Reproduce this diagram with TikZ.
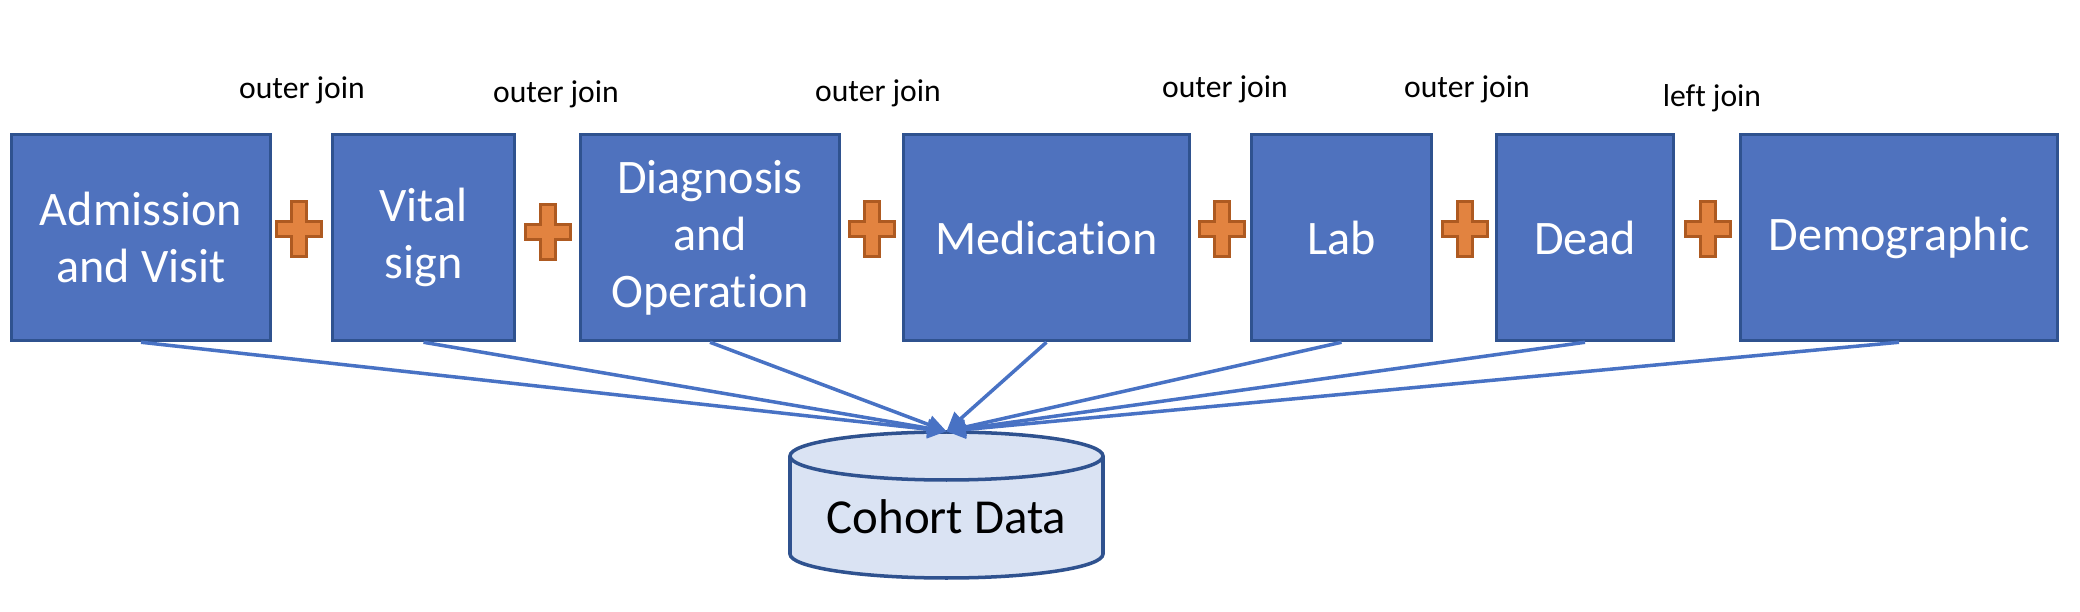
\documentclass[tikz,border=0pt]{standalone}
\usepackage{fontspec}
\setmainfont[Ligatures={NoCommon}]{Carlito}
\usepackage{tikz}
\usetikzlibrary{positioning, arrows.meta}
\definecolor{tblfill}{RGB}{79,114,190}
\definecolor{tblline}{RGB}{47,82,143}
\definecolor{plusfill}{RGB}{226,131,64}
\definecolor{plusline}{RGB}{174,90,33}
\definecolor{dbfill}{RGB}{218,227,243}
\definecolor{linkblue}{RGB}{72,114,196}

\tikzset{
  tblbox/.style={rectangle, draw=tblline, fill=tblfill, line width=1pt,
    minimum height=2.06cm, align=center, text=white,
    font=\fontsize{13.7}{16.2}\selectfont},
  joinlabel/.style={anchor=base, font=\fontsize{9}{11}\selectfont},
  feed/.style={-{Triangle[length=0.19cm, width=0.18cm]}, linkblue, line width=1pt},
  dbline/.style={draw=tblline, line width=1pt},
  joinplus/.pic={
    \draw[plusline, fill=plusfill, line width=0.9pt]
      (-0.074,0.272) -- (0.074,0.272) -- (0.074,0.074) -- (0.228,0.074)
      -- (0.228,-0.074) -- (0.074,-0.074) -- (0.074,-0.272) -- (-0.074,-0.272)
      -- (-0.074,-0.074) -- (-0.228,-0.074) -- (-0.228,0.074) -- (-0.074,0.074) -- cycle;
  }
}

\begin{document}
\begin{tikzpicture}
  \useasboundingbox (0,0) rectangle (20.8,6.12);
  \coordinate (adm) at (1.41,3.745);
  \coordinate (vit) at (4.235,3.745);
  \coordinate (diag) at (7.10,3.745);
  \coordinate (med) at (10.465,3.745);
  \coordinate (lab) at (13.415,3.745);
  \coordinate (dead) at (15.85,3.745);
  \coordinate (demo) at (18.99,3.745);
  \coordinate (db) at (9.465,1.07);

  \node[tblbox, minimum width=2.59cm] (admission) at (adm) {Admission\\and Visit};
  \node[tblbox, minimum width=1.82cm] (vital) at (vit) {Vital\\sign};
  \node[tblbox, minimum width=2.59cm] (diagnosis) at (diag) {Diagnosis\\and\\Operation};
  \node[tblbox, minimum width=2.86cm] (medication) at (med) {Medication};
  \node[tblbox, minimum width=1.80cm] (labs) at (lab) {Lab};
  \node[tblbox, minimum width=1.77cm] (death) at (dead) {Dead};
  \node[tblbox, minimum width=3.17cm] (demographic) at (demo) {Demographic};

  \pic at (2.99,3.83) {joinplus};
  \pic at (5.48,3.80) {joinplus};
  \pic at (8.72,3.83) {joinplus};
  \pic at (12.22,3.83) {joinplus};
  \pic at (14.65,3.83) {joinplus};
  \pic at (17.08,3.83) {joinplus};

  \node[joinlabel] (j1) at (3.02,5.13) {outer join};
  \node[joinlabel] (j2) at (5.56,5.09) {outer join};
  \node[joinlabel] (j3) at (8.78,5.10) {outer join};
  \node[joinlabel] (j4) at (12.25,5.14) {outer join};
  \node[joinlabel] (j5) at (14.67,5.14) {outer join};
  \node[joinlabel] (j6) at (17.12,5.05) {left join};

  % cohort cylinder
  \path[dbline, fill=dbfill] ([shift={(-1.565,0.49)}]db) -- ([shift={(-1.565,-0.49)}]db)
      arc[start angle=180, end angle=360, x radius=1.565, y radius=0.24]
      -- ([shift={(1.565,0.49)}]db)
      arc[start angle=0, end angle=180, x radius=1.565, y radius=0.24] -- cycle;
  \path[dbline] ([shift={(-1.565,0.49)}]db)
      arc[start angle=180, end angle=360, x radius=1.565, y radius=0.24];
  \node[minimum width=3.13cm, minimum height=1.46cm, text height=0.58cm, text depth=0cm,
      font=\fontsize{13.9}{16}\selectfont] (cohort) at (db) {Cohort Data};

  \path[feed, draw] (admission.south) -- (cohort.north);
  \path[feed, draw] (vital.south) -- (cohort.north);
  \path[feed, draw] (diagnosis.south) -- (cohort.north);
  \path[feed, draw] (medication.south) -- (cohort.north);
  \path[feed, draw] (labs.south) -- (cohort.north);
  \path[feed, draw] (death.south) -- (cohort.north);
  \path[feed, draw] (demographic.south) -- (cohort.north);
\end{tikzpicture}
\end{document}
